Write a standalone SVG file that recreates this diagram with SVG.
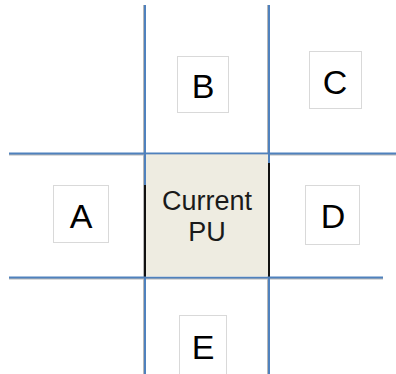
<svg xmlns="http://www.w3.org/2000/svg" width="396" height="374" viewBox="0 0 396 374">
<style>
.box{fill:#ffffff;stroke:#d9d9d9;stroke-width:1}
.lbl{font-family:"Liberation Sans",Arial,sans-serif;font-size:34px;fill:#000;text-anchor:middle}
.cur{font-family:"Liberation Sans",Arial,sans-serif;font-size:27px;fill:#1a1a1a;text-anchor:middle}
.grid{stroke:#4f81bd;stroke-width:2;fill:none}
.shadow{stroke:#b8b8b8;stroke-width:2;fill:none}
</style>
<rect width="396" height="374" fill="#ffffff"/>
<g id="connectors">
<line class="shadow" x1="9" y1="154.5" x2="396" y2="154.5"/>
<line class="shadow" x1="9" y1="278.5" x2="383" y2="278.5"/>
<line class="shadow" x1="144" y1="5" x2="144" y2="374"/>
<line class="shadow" x1="268" y1="5" x2="268" y2="374"/>
<line class="grid" x1="9" y1="153.5" x2="396" y2="153.5"/>
<line class="grid" x1="9" y1="277.5" x2="383" y2="277.5"/>
<line class="grid" x1="145" y1="5" x2="145" y2="374"/>
<line class="grid" x1="269" y1="5" x2="269" y2="374"/>
</g>
<g id="current">
<rect x="146" y="154.5" width="122" height="122" fill="#eeece1"/>
<line x1="145" y1="185" x2="145" y2="276.5" stroke="#111" stroke-width="2"/>
<line x1="269" y1="163" x2="269" y2="276.5" stroke="#111" stroke-width="2"/>
<text class="cur" x="207" y="210">Current</text>
<text class="cur" x="207" y="241">PU</text>
</g>
<g id="A">
<rect class="box" x="53.5" y="185.5" width="55" height="57"/>
<text class="lbl" x="81" y="228">A</text>
</g>
<g id="B">
<rect class="box" x="177.5" y="56.5" width="51" height="56"/>
<text class="lbl" x="203" y="98">B</text>
</g>
<g id="C">
<rect class="box" x="309.5" y="51.5" width="52" height="57"/>
<text class="lbl" x="335" y="94">C</text>
</g>
<g id="D">
<rect class="box" x="305.5" y="185.5" width="54" height="59"/>
<text class="lbl" x="333" y="228">D</text>
</g>
<g id="E">
<rect class="box" x="179.5" y="315.5" width="47" height="62"/>
<text class="lbl" x="203" y="359">E</text>
</g>
</svg>
